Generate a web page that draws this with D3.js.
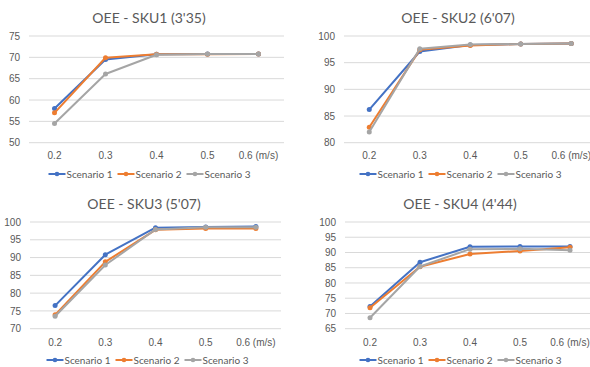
<!DOCTYPE html>
<html>
<head>
<meta charset="utf-8">
<script src="https://cdn.jsdelivr.net/npm/d3@7"></script>
<style>
  html, body { margin: 0; padding: 0; background: #fff; }
  svg { display: block; font-family: Lato, "Open Sans", sans-serif; }
</style>
</head>
<body>
<svg id="chart" width="590" height="367"></svg>
<script>
// Speeds on the x axis (the last tick carries the unit)
const speeds = ["0.2", "0.3", "0.4", "0.5", "0.6"];
const speedLabels = ["0.2", "0.3", "0.4", "0.5", "0.6 (m/s)"];
const scenarios = ["Scenario 1", "Scenario 2", "Scenario 3"];
const colors = ["#4472C4", "#ED7D31", "#A5A5A5"];

// OEE (%) per SKU, one array per scenario
const sku1 = [
  [58.0, 69.5, 70.7, 70.8, 70.8],
  [57.0, 69.9, 70.7, 70.7, 70.8],
  [54.5, 66.1, 70.6, 70.8, 70.8]
];
const sku2 = [
  [86.2, 97.1, 98.3, 98.5, 98.6],
  [82.9, 97.4, 98.2, 98.5, 98.6],
  [82.0, 97.6, 98.4, 98.5, 98.6]
];
const sku3 = [
  [76.5, 90.8, 98.4, 98.6, 98.7],
  [73.9, 88.8, 97.8, 98.2, 98.2],
  [73.5, 87.9, 97.9, 98.5, 98.5]
];
const sku4 = [
  [72.3, 86.8, 91.9, 92.0, 92.0],
  [71.9, 85.3, 89.5, 90.5, 91.7],
  [68.6, 85.4, 91.1, 91.2, 90.7]
];

const titles = ["OEE - SKU1 (3'35)", "OEE - SKU2 (6'07)", "OEE - SKU3 (5'07)", "OEE - SKU4 (4'44)"];
const yTicks1 = [50, 55, 60, 65, 70, 75];
const yTicks2 = [80, 85, 90, 95, 100];
const yTicks3 = [70, 75, 80, 85, 90, 95, 100];
const yTicks4 = [65, 70, 75, 80, 85, 90, 95, 100];

// Panel geometry
const panels = [
  { data: sku1, title: titles[0], ticks: yTicks1, x0: 29, x1: 284, yTop: 36, yBot: 142.7, titleX: 149, titleY: 17, xLabY: 155, legX: 150, legY: 174 },
  { data: sku2, title: titles[1], ticks: yTicks2, x0: 344, x1: 596.5, yTop: 36, yBot: 142.7, titleX: 458, titleY: 17, xLabY: 155, legX: 461, legY: 174 },
  { data: sku3, title: titles[2], ticks: yTicks3, x0: 30, x1: 281, yTop: 222, yBot: 328.7, titleX: 144, titleY: 203, xLabY: 342, legX: 148, legY: 360 },
  { data: sku4, title: titles[3], ticks: yTicks4, x0: 345, x1: 595, yTop: 222, yBot: 328.7, titleX: 460, titleY: 203, xLabY: 342, legX: 461, legY: 360 }
];

const svg = d3.select("#chart");
const textColor = "#595959";

panels.forEach(p => {
  const g = svg.append("g");
  const x = d3.scaleBand().domain(speeds).range([p.x0, p.x1]);
  const y = d3.scaleLinear().domain(d3.extent(p.ticks)).range([p.yBot, p.yTop]);

  // Title
  g.append("text")
    .attr("x", p.titleX).attr("y", p.titleY)
    .attr("text-anchor", "middle").attr("dominant-baseline", "central")
    .attr("font-size", 14).attr("fill", textColor)
    .text(p.title);

  // Horizontal gridlines
  g.append("g").selectAll("line").data(p.ticks).join("line")
    .attr("x1", p.x0).attr("x2", p.x1)
    .attr("y1", d => y(d)).attr("y2", d => y(d))
    .attr("stroke", "#D9D9D9").attr("stroke-width", 1);

  // Y axis labels
  const yAxis = d3.axisLeft(y).tickValues(p.ticks).tickSize(0).tickPadding(9);
  const ya = g.append("g").attr("transform", `translate(${p.x0},0)`).call(yAxis);
  ya.select(".domain").remove();
  ya.selectAll("text").attr("font-size", 10).attr("fill", textColor).attr("font-family", null);

  // X axis labels
  const xAxis = d3.axisBottom(x).tickSize(0).tickFormat((d, i) => speedLabels[i]);
  const xa = g.append("g").attr("transform", `translate(0,${p.xLabY})`).call(xAxis);
  xa.select(".domain").remove();
  xa.selectAll("text").attr("y", 0).attr("dy", "0.35em")
    .attr("font-size", 10).attr("fill", textColor).attr("font-family", null);

  // Series
  const line = d3.line().x((d, i) => x(speeds[i]) + x.bandwidth() / 2).y(d => y(d));
  p.data.forEach((vals, s) => {
    g.append("path").datum(vals)
      .attr("d", line).attr("fill", "none")
      .attr("stroke", colors[s]).attr("stroke-width", 2)
      .attr("stroke-linejoin", "round");
    g.append("g").selectAll("circle").data(vals).join("circle")
      .attr("cx", (d, i) => x(speeds[i]) + x.bandwidth() / 2)
      .attr("cy", d => y(d)).attr("r", 2.5)
      .attr("fill", colors[s]);
  });

  // Legend
  const itemW = 69;
  const startX = p.legX - (itemW * 3) / 2 + 2;
  const leg = g.append("g");
  scenarios.forEach((name, s) => {
    const lx = startX + s * itemW;
    leg.append("line")
      .attr("x1", lx).attr("x2", lx + 17)
      .attr("y1", p.legY).attr("y2", p.legY)
      .attr("stroke", colors[s]).attr("stroke-width", 2);
    leg.append("circle").attr("cx", lx + 8.5).attr("cy", p.legY).attr("r", 2.3).attr("fill", colors[s]);
    leg.append("text")
      .attr("x", lx + 18).attr("y", p.legY)
      .attr("dominant-baseline", "central")
      .attr("font-size", 10).attr("fill", textColor)
      .text(name);
  });
});
</script>
</body>
</html>
